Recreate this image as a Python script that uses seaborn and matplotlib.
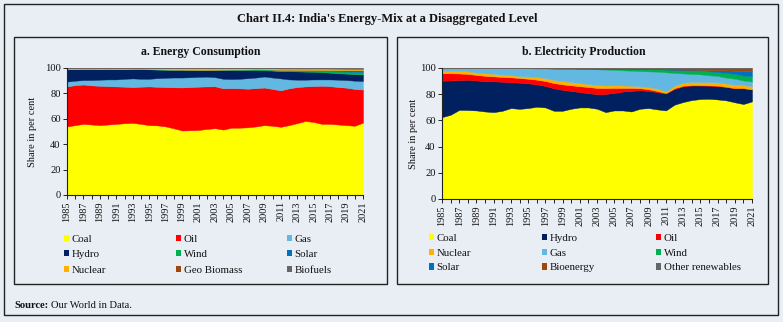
import numpy as np
import pandas as pd
import matplotlib
matplotlib.use("Agg")
import matplotlib.pyplot as plt
from matplotlib.patches import Rectangle, Patch
from matplotlib.ticker import MultipleLocator, FixedLocator
import seaborn as sns

years = list(range(1985, 2022))
tick_years = years[::2]

# ---------------- a. Energy Consumption (share, %) ----------------
cons_coal = [54.0, 55.0, 56.0, 55.5, 55.0, 55.5, 56.0, 56.5, 56.8, 56.0,
             55.0, 54.8, 54.0, 52.5, 50.8, 51.0, 51.2, 52.0, 52.6, 51.5,
             53.0, 53.0, 53.3, 54.0, 55.0, 54.5, 53.7, 55.0, 56.6, 58.3,
             57.5, 56.0, 56.0, 55.5, 55.0, 54.5, 57.0]
cons_oil = [31.5, 31.5, 31.0, 30.8, 31.0, 30.2, 29.5, 28.8, 28.2, 29.3,
            30.5, 30.4, 31.0, 32.3, 33.9, 34.0, 34.1, 33.5, 33.0, 32.5,
            31.2, 31.0, 30.4, 30.2, 29.6, 29.0, 28.7, 29.0, 28.4, 27.2,
            28.3, 30.0, 29.7, 29.5, 29.5, 29.0, 26.0]
cons_gas = [3.8, 3.5, 3.5, 4.2, 4.8, 5.3, 5.5, 6.2, 6.8, 6.2,
            6.0, 6.8, 7.3, 7.7, 7.8, 7.7, 7.7, 7.7, 7.2, 7.5,
            7.1, 7.5, 8.3, 8.3, 8.7, 9.0, 9.4, 7.0, 5.8, 5.3,
            5.2, 5.0, 5.3, 5.8, 6.0, 6.5, 6.8]
cons_hydro = [9.8, 9.0, 8.6, 8.6, 8.2, 8.1, 8.0, 7.5, 7.4, 7.7,
              7.45, 6.8, 6.4, 6.1, 6.1, 5.8, 5.35, 5.1, 5.6, 6.9,
              7.08, 6.77, 6.27, 5.86, 4.85, 5.45, 5.68, 6.45, 6.5, 6.35,
              6.05, 5.8, 5.35, 5.1, 5.05, 5.2, 5.1]
cons_wind = [0, 0, 0, 0, 0, 0, 0, 0, 0, 0,
             0.05, 0.1, 0.1, 0.1, 0.1, 0.1, 0.15, 0.2, 0.2, 0.3,
             0.4, 0.5, 0.6, 0.7, 0.8, 0.8, 0.9, 1.0, 1.0, 1.1,
             1.1, 1.2, 1.4, 1.5, 1.6, 1.7, 1.8]
cons_solar = [0, 0, 0, 0, 0, 0, 0, 0, 0, 0,
              0, 0, 0, 0, 0, 0, 0, 0, 0, 0,
              0, 0, 0, 0, 0, 0, 0.02, 0.05, 0.1, 0.15,
              0.25, 0.4, 0.7, 1.0, 1.2, 1.4, 1.6]
cons_nuclear = [0.8, 0.9, 0.8, 0.8, 0.9, 0.8, 0.9, 0.9, 0.7, 0.7,
                0.9, 1.0, 1.1, 1.2, 1.2, 1.3, 1.3, 1.3, 1.2, 1.1,
                1.0, 1.0, 0.9, 0.7, 0.8, 1.0, 1.2, 1.1, 1.2, 1.2,
                1.2, 1.2, 1.1, 1.1, 1.1, 1.1, 1.1]
cons_geo = [0.1, 0.1, 0.1, 0.1, 0.1, 0.1, 0.1, 0.1, 0.1, 0.1,
            0.1, 0.1, 0.1, 0.1, 0.1, 0.1, 0.2, 0.2, 0.2, 0.2,
            0.2, 0.2, 0.2, 0.2, 0.2, 0.2, 0.3, 0.3, 0.3, 0.3,
            0.3, 0.3, 0.3, 0.3, 0.3, 0.3, 0.3]
cons_biofuels = [0, 0, 0, 0, 0, 0, 0, 0, 0, 0,
                 0, 0, 0, 0, 0, 0, 0, 0, 0, 0,
                 0.02, 0.03, 0.03, 0.04, 0.05, 0.05, 0.1, 0.1, 0.1, 0.1,
                 0.1, 0.1, 0.15, 0.2, 0.25, 0.3, 0.3]

# ---------------- b. Electricity Production (share, %) ----------------
elec_coal = [62.5, 64.3, 68.0, 67.9, 67.6, 66.8, 66.3, 67.3, 69.4, 68.8,
             69.4, 70.4, 69.9, 67.3, 67.3, 68.9, 69.9, 69.9, 68.9, 66.3,
             67.6, 67.6, 66.8, 68.9, 69.4, 68.4, 67.6, 72.0, 74.0, 75.5,
             76.3, 76.5, 76.0, 75.3, 73.8, 72.5, 74.5]
elec_hydro = [27.8, 26.2, 22.8, 23.1, 22.9, 23.0, 23.5, 22.2, 19.8, 20.0,
              18.9, 17.1, 16.4, 17.2, 16.0, 13.6, 11.7, 10.9, 11.1, 13.9,
              13.4, 14.4, 15.7, 14.1, 13.1, 13.2, 12.9, 12.0, 12.0, 11.1,
              10.3, 10.0, 10.3, 10.2, 10.7, 12.0, 9.0]
elec_oil = [5.7, 5.5, 5.0, 4.5, 4.2, 4.2, 3.8, 3.7, 3.7, 3.6,
            3.5, 3.6, 3.8, 4.0, 4.2, 4.3, 4.5, 4.7, 4.8, 4.5,
            3.8, 2.8, 2.3, 1.6, 1.3, 0.9, 0.4, 0.6, 0.5, 0.4,
            0.3, 0.3, 0.25, 0.2, 0.2, 0.2, 0.2]
elec_nuclear = [1.9, 2.0, 2.0, 2.0, 1.9, 2.0, 2.0, 1.8, 1.6, 1.5,
                1.8, 2.0, 2.2, 2.4, 2.5, 2.5, 2.4, 2.3, 2.2, 2.0,
                2.0, 1.9, 1.7, 1.4, 1.6, 1.8, 1.3, 1.8, 2.3, 2.4,
                2.4, 2.5, 2.5, 2.5, 2.5, 2.3, 2.3]
elec_gas = [2.0, 1.9, 2.1, 2.4, 3.3, 3.9, 4.3, 4.9, 5.4, 6.0,
            6.2, 6.5, 7.3, 8.6, 9.4, 10.1, 10.8, 11.4, 12.0, 12.1,
            11.8, 11.5, 11.4, 11.6, 12.0, 12.9, 14.5, 9.8, 7.05, 6.05,
            5.85, 5.15, 4.9, 4.45, 4.65, 3.45, 3.65]
elec_wind = [0, 0, 0, 0, 0, 0, 0, 0, 0, 0,
             0.1, 0.2, 0.2, 0.2, 0.3, 0.3, 0.3, 0.4, 0.5, 0.7,
             0.9, 1.2, 1.4, 1.6, 1.7, 1.9, 2.2, 2.5, 2.6, 2.8,
             2.8, 3.0, 2.9, 3.5, 3.7, 3.8, 4.0]
elec_solar = [0, 0, 0, 0, 0, 0, 0, 0, 0, 0,
              0, 0, 0, 0, 0, 0, 0, 0, 0, 0,
              0, 0, 0, 0, 0, 0, 0.05, 0.15, 0.3, 0.4,
              0.6, 0.9, 1.4, 2.0, 2.4, 3.5, 3.9]
elec_bio = [0.1, 0.1, 0.1, 0.1, 0.1, 0.1, 0.1, 0.1, 0.1, 0.1,
            0.1, 0.2, 0.2, 0.3, 0.3, 0.3, 0.4, 0.4, 0.5, 0.5,
            0.5, 0.6, 0.7, 0.8, 0.9, 0.9, 1.0, 1.1, 1.2, 1.3,
            1.4, 1.6, 1.7, 1.8, 2.0, 2.2, 2.4]
elec_other = [0, 0, 0, 0, 0, 0, 0, 0, 0, 0,
              0, 0, 0, 0, 0, 0, 0, 0, 0, 0,
              0, 0, 0, 0, 0, 0, 0.05, 0.05, 0.05, 0.05,
              0.05, 0.05, 0.05, 0.05, 0.05, 0.05, 0.05]

cons_labels = ["Coal", "Oil", "Gas", "Hydro", "Wind", "Solar",
               "Nuclear", "Geo Biomass", "Biofuels"]
elec_labels = ["Coal", "Hydro", "Oil", "Nuclear", "Gas", "Wind",
               "Solar", "Bioenergy", "Other renewables"]

C = {"Coal": "#FFFF00", "Oil": "#FF0000", "Gas": "#62B8E0",
     "Hydro": "#002060", "Wind": "#00B050", "Solar": "#0070C0",
     "Nuclear": "#FFB000", "Geo Biomass": "#9E480E", "Bioenergy": "#9E480E",
     "Biofuels": "#666666", "Other renewables": "#666666"}

df_cons = pd.DataFrame({
    "Coal": cons_coal, "Oil": cons_oil, "Gas": cons_gas, "Hydro": cons_hydro,
    "Wind": cons_wind, "Solar": cons_solar, "Nuclear": cons_nuclear,
    "Geo Biomass": cons_geo, "Biofuels": cons_biofuels}, index=years)
df_elec = pd.DataFrame({
    "Coal": elec_coal, "Hydro": elec_hydro, "Oil": elec_oil,
    "Nuclear": elec_nuclear, "Gas": elec_gas, "Wind": elec_wind,
    "Solar": elec_solar, "Bioenergy": elec_bio,
    "Other renewables": elec_other}, index=years)

sns.set_theme(style="ticks")
plt.rcParams['font.family'] = ['Liberation Serif', 'DejaVu Serif']

BG = "#E9EDF4"
W, H = 783, 322
fig = plt.figure(figsize=(W / 100, H / 100), dpi=100, facecolor=BG)


def fx(px):
    return px / W


def fy(py):
    return 1 - py / H


# frames
fig.patches.append(Rectangle((fx(4), fy(315)), fx(774), (311) / H,
                             transform=fig.transFigure, fill=False,
                             edgecolor="#222222", lw=1.0))
for (x0, x1) in [(14, 387), (397, 768)]:
    fig.patches.append(Rectangle((fx(x0), fy(284)), fx(x1 - x0), (284 - 37) / H,
                                 transform=fig.transFigure, fill=False,
                                 edgecolor="#222222", lw=1.0))

fig.text(0.494, fy(19), "Chart II.4: India's Energy-Mix at a Disaggregated Level",
         ha="center", va="center", fontsize=9, fontweight="bold", color="#111111")

panels = [
    dict(df=df_cons, labels=cons_labels, box=(67, 363, 68, 195),
         title="a. Energy Consumption", tx=200.5, ylab_x=37,
         leg_cols=[["Coal", "Hydro", "Nuclear"], ["Oil", "Wind", "Geo Biomass"],
                   ["Gas", "Solar", "Biofuels"]],
         leg_x=[64, 176, 287], leg_top=234.5, leg_sp=0.62),
    dict(df=df_elec, labels=elec_labels, box=(442, 752, 68, 199),
         title="b. Electricity Production", tx=583.5, ylab_x=418,
         leg_cols=[["Coal", "Nuclear", "Solar"], ["Hydro", "Gas", "Bioenergy"],
                   ["Oil", "Wind", "Other renewables"]],
         leg_x=[429, 542, 656], leg_top=234, leg_sp=0.52),
]

for p in panels:
    x0, x1, ytop, ybot = p["box"]
    ax = fig.add_axes([fx(x0), fy(ybot), fx(x1 - x0), (ybot - ytop) / H])
    ax.set_facecolor("none")
    df = p["df"]
    cols = [C[k] for k in p["labels"]]
    ax.stackplot(df.index.values, df[p["labels"]].T.values, colors=cols,
                 edgecolor="face", linewidth=0.3, antialiased=True)
    ax.set_xlim(1985, 2021)
    ax.set_ylim(0, 100)
    ax.xaxis.set_major_locator(FixedLocator(tick_years))
    ax.xaxis.set_minor_locator(FixedLocator(years))
    ax.set_xticklabels([str(y) for y in tick_years])
    ax.yaxis.set_major_locator(MultipleLocator(20))
    ax.tick_params(axis="x", which="major", labelsize=7.4, rotation=90,
                   length=3, width=0.7, color="#222222", pad=1.5, labelcolor="#111111")
    ax.tick_params(axis="x", which="minor", length=3, width=0.7, color="#222222")
    ax.tick_params(axis="y", labelsize=7.6, length=3, width=0.7, color="#222222",
                   pad=1.5, labelcolor="#111111")
    for s in ["top", "right"]:
        ax.spines[s].set_visible(False)
    for s in ["left", "bottom"]:
        ax.spines[s].set_color("#222222")
        ax.spines[s].set_linewidth(0.8)
    ax.set_ylabel("Share in per cent", fontsize=7.5, color="#111111")
    ax.yaxis.set_label_coords((p["ylab_x"] - x0) / (x1 - x0), 0.5)
    ax.set_xlabel("")
    fig.text(fx(p["tx"]), fy(52), p["title"], ha="center", va="center",
             fontsize=8.5, fontweight="bold", color="#111111")

    for cx, names in zip(p["leg_x"], p["leg_cols"]):
        handles = [Patch(facecolor=C[n], edgecolor="none") for n in names]
        lg = fig.legend(handles, names, loc="upper left",
                        bbox_to_anchor=(fx(cx), fy(p["leg_top"])),
                        frameon=False, fontsize=7.8, handlelength=0.5,
                        handleheight=0.5, handletextpad=0.2,
                        labelspacing=p["leg_sp"], borderpad=0, borderaxespad=0)
        for t in lg.get_texts():
            t.set_color("#111111")

# source note
renderer = fig.canvas.get_renderer()
t1 = fig.text(fx(14), fy(306), "Source:", ha="left", va="center",
              fontsize=7.6, fontweight="bold", color="#111111")
bb = t1.get_window_extent(renderer=renderer)
fig.text((bb.x1 + 3) / W, fy(306), "Our World in Data.", ha="left", va="center",
         fontsize=7.6, color="#111111")

fig.savefig("out.png", dpi=100, facecolor=BG)
